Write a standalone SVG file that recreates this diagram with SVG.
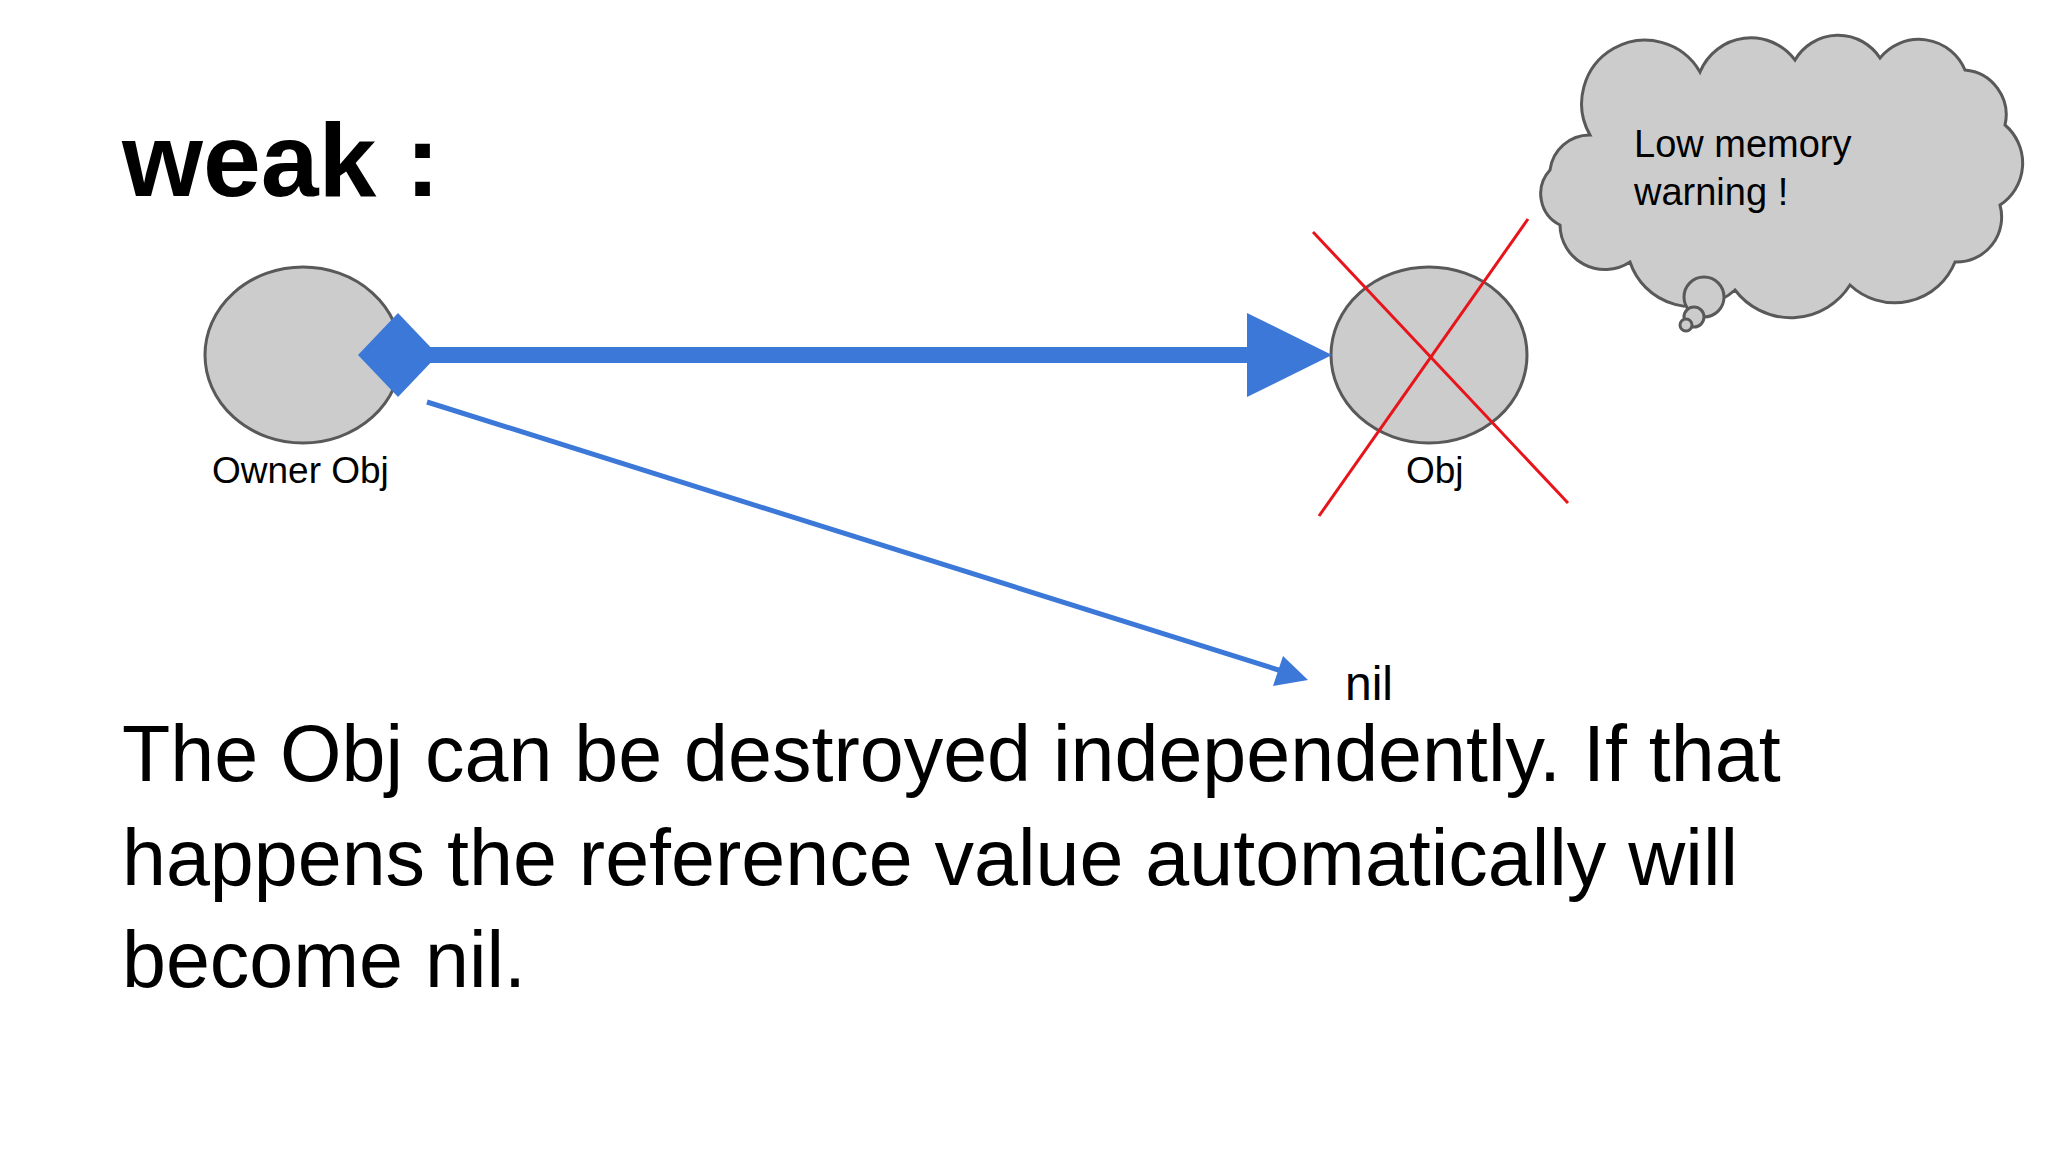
<svg xmlns="http://www.w3.org/2000/svg" width="2048" height="1152" viewBox="0 0 2048 1152">
<style>
.n{fill:#cccccc;stroke:#595959;stroke-width:3}
.t{font-family:"Liberation Sans",Arial,sans-serif;fill:#000}
</style>
<rect width="2048" height="1152" fill="#fff"/>
<text class="t" x="122" y="196" font-size="104" font-weight="bold">weak :</text>
<g id="owner"><ellipse class="n" cx="303" cy="355" rx="98" ry="88"/><text class="t" x="212" y="483" font-size="37">Owner Obj</text></g>
<g id="obj"><ellipse class="n" cx="1429" cy="355" rx="98" ry="88"/><text class="t" x="1406" y="483" font-size="37">Obj</text></g>
<g id="cross" stroke="#e8141c" stroke-width="3"><line x1="1313" y1="232" x2="1568" y2="503"/><line x1="1528" y1="219" x2="1319" y2="516"/></g>
<g id="cloud">
<path class="n" d="M1590,135 A60,60 0 0 1 1700,72 A55,55 0 0 1 1795,60 A50,50 0 0 1 1880,58 A50,50 0 0 1 1965,70 A45,45 0 0 1 2005,125 A50,50 0 0 1 2000,205 A45,45 0 0 1 1955,262 A65,65 0 0 1 1850,285 A70,70 0 0 1 1735,290 A65,65 0 0 1 1630,262 A45,45 0 0 1 1560,225 A35,35 0 0 1 1550,170 A40,40 0 0 1 1590,135 Z"/>
<circle class="n" cx="1704" cy="297" r="20"/><circle class="n" cx="1694" cy="317" r="10"/><circle class="n" cx="1686" cy="325" r="6"/>
<text class="t" x="1634" y="157" font-size="38">Low memory</text><text class="t" x="1634" y="205" font-size="38">warning !</text>
</g>
<g id="connectors">
<line x1="420" y1="355" x2="1250" y2="355" stroke="#3c78d8" stroke-width="16"/>
<polygon points="1247,313 1332,355 1247,397" fill="#3c78d8"/>
<polygon points="358,355 398,313 438,355 398,397" fill="#3c78d8"/>
<line x1="427" y1="402" x2="1285" y2="672" stroke="#3c78d8" stroke-width="5"/>
<polygon points="1308,680 1273,686 1283,656" fill="#3c78d8"/>
</g>
<text class="t" x="1345" y="700" font-size="48">nil</text>
<g class="t" font-size="79">
<text x="122" y="781">The Obj can be destroyed independently. If that</text>
<text x="122" y="885">happens the reference value automatically will</text>
<text x="122" y="987">become nil.</text>
</g>
</svg>
